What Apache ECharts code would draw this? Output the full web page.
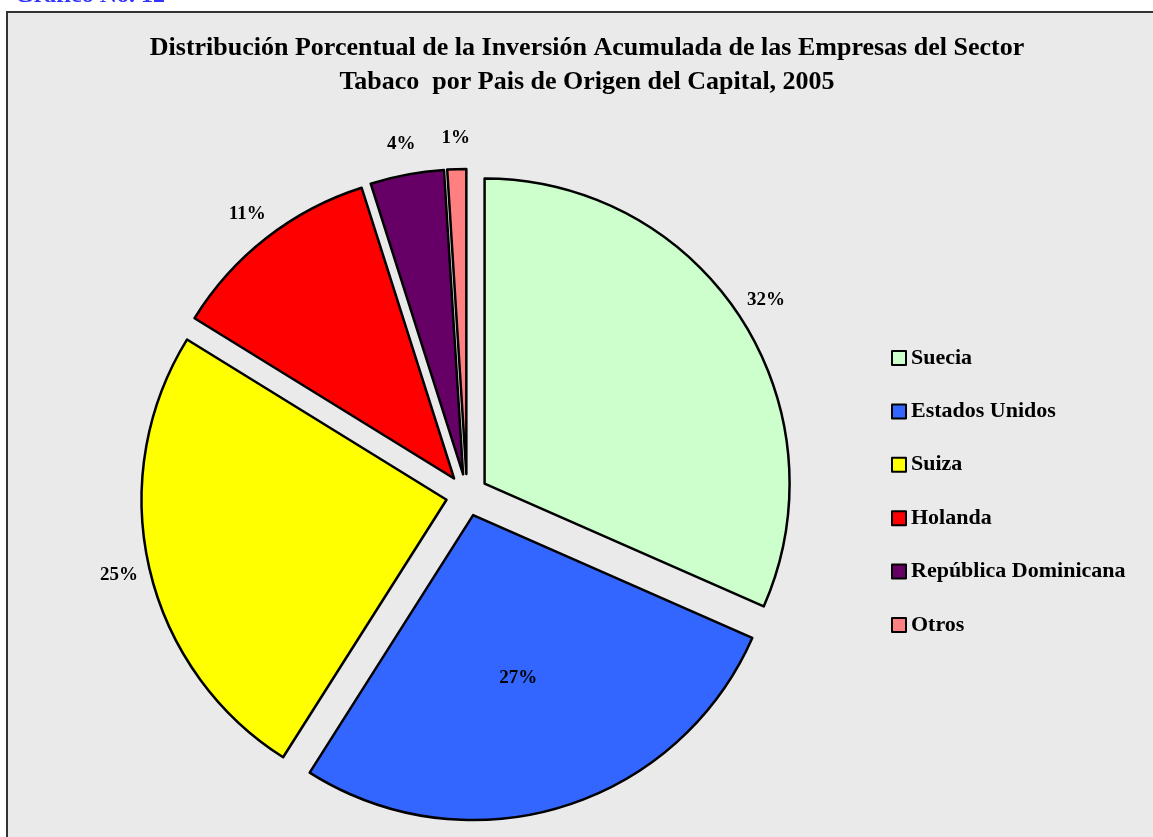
<!DOCTYPE html>
<html>
<head>
<meta charset="utf-8">
<title>Gráfico No. 12</title>
<script src="https://cdn.jsdelivr.net/npm/echarts@6/dist/echarts.min.js"></script>
<style>
  html, body { margin: 0; padding: 0; background: #fff; }
  #grafico { width: 1153px; height: 837px; }
</style>
</head>
<body>
<div id="grafico"></div>
<script>
// datos: inversion acumulada por pais de origen (%)
var paises = ['Suecia', 'Estados Unidos', 'Suiza', 'Holanda', 'República Dominicana', 'Otros'];
var valores = [31.6, 27.4, 24.8, 11.3, 3.9, 1.0];
var colores = ['#CCFFCC', '#3366FF', '#FFFF00', '#FF0000', '#660066', '#FF8080'];

var serif = '"Liberation Serif", "Times New Roman", serif';

window.onload = function () {
    var chart = echarts.init(document.getElementById('grafico'));

    var datos = paises.map(function (p, i) {
        var d = {
            name: p,
            value: valores[i],
            selected: true,
            itemStyle: { color: colores[i] }
        };
        if (p === 'Estados Unidos') {
            d.label = { position: 'inside' };
        }
        return d;
    });

    chart.setOption({
        animation: false,
        graphic: [
            {
                type: 'rect',
                shape: { x: 7, y: 12, width: 1160, height: 840 },
                style: { fill: '#eaeaea', stroke: '#333', lineWidth: 2 },
                z: -10
            },
            {
                type: 'text',
                x: 15,
                y: -16,
                style: {
                    text: 'Gráfico No. 12',
                    fill: '#3333FF',
                    font: 'bold 24px ' + serif
                }
            }
        ],
        title: {
            text: 'Distribución Porcentual de la Inversión Acumulada de las Empresas del Sector\nTabaco  por Pais de Origen del Capital, 2005',
            left: 587,
            textAlign: 'center',
            top: 31,
            padding: 0,
            textStyle: {
                fontFamily: serif,
                fontWeight: 'bold',
                fontSize: 26,
                lineHeight: 34,
                color: '#000'
            }
        },
        legend: {
            orient: 'vertical',
            left: 891,
            top: 347,
            padding: 0,
            itemWidth: 14,
            itemHeight: 14,
            itemGap: 31.4,
            selectedMode: false,
            icon: 'rect',
            textStyle: {
                fontFamily: serif,
                fontWeight: 'bold',
                fontSize: 22,
                lineHeight: 22,
                color: '#000'
            },
            data: paises
        },
        series: [{
            type: 'pie',
            center: [467, 495],
            radius: [0, 305],
            startAngle: 90,
            clockwise: true,
            selectedMode: 'multiple',
            selectedOffset: 21,
            avoidLabelOverlap: false,
            silent: true,
            itemStyle: { borderColor: '#000', borderWidth: 2.5 },
            label: {
                show: true,
                position: 'outside',
                distanceToLabelLine: 0,
                formatter: function (p) { return Math.round(p.percent) + '%'; },
                fontFamily: serif,
                fontWeight: 'bold',
                fontSize: 19,
                color: '#000'
            },
            labelLine: { show: false, length: 31, length2: 0 },
            labelLayout: function (p) {
                // la etiqueta interior queda un poco mas hacia el borde
                return p.dataIndex === 1 ? { align: 'center', dy: 14 } : { align: 'center' };
            },
            emphasis: { disabled: true },
            select: { itemStyle: { borderColor: '#000', borderWidth: 2.5 } },
            data: datos
        }]
    });
};
</script>
</body>
</html>
